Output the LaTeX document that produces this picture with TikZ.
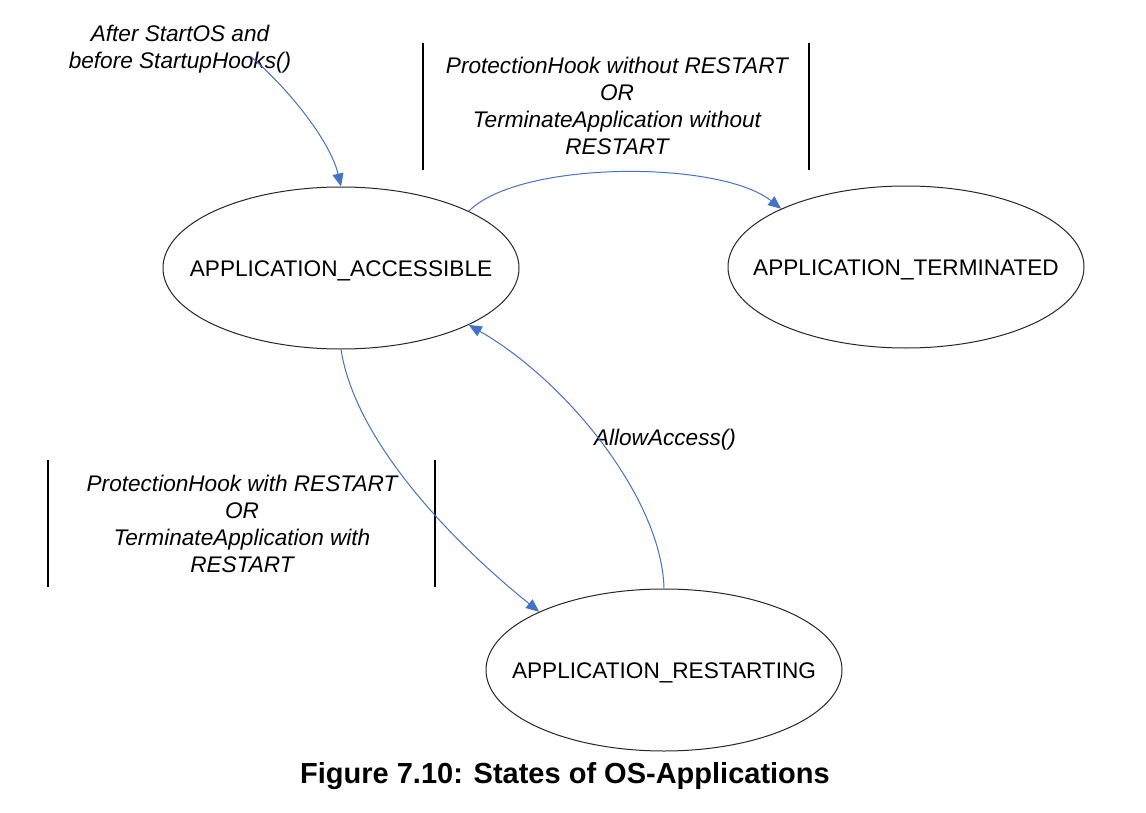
\documentclass[tikz,border=0pt]{standalone}
\usepackage{fontspec}
\setmainfont{Liberation Sans}
\usetikzlibrary{shapes.geometric,arrows.meta}
\definecolor{flowblue}{RGB}{68,114,196}
\newcommand{\stxt}[1]{\makebox[0pt]{\raisebox{-4pt}[0pt][0pt]{#1}}}
\begin{document}
\begin{tikzpicture}[x=0.5pt,y=-0.5pt,
  state/.style={draw=black!85,line width=0.5pt,ellipse,inner sep=0pt,
    minimum width=178pt,minimum height=81pt,
    font=\fontsize{11.3}{13.5}\selectfont},
  lbl/.style={align=center,inner sep=0pt,
    font=\fontsize{11.3}{13.5}\selectfont\itshape},
  flow/.style={draw=flowblue,line width=0.5pt,
    -{Triangle[length=6.5pt,width=5.5pt]}},
  bar/.style={draw=black,line width=0.7pt}]
\useasboundingbox (0,0) rectangle (1146,813);
\fill[white] (0,0) rectangle (1146,813);

\node[state] (acc)  at (341,268) {\stxt{APPLICATION\_ACCESSIBLE}};
\node[state] (term) at (906,267) {\stxt{APPLICATION\_TERMINATED}};
\node[state] (rest) at (664,670) {\stxt{APPLICATION\_RESTARTING}};

\node[lbl] (l1) at (180,49) {After StartOS and\\before StartupHooks()};
\node[lbl] (l2) at (617,106) {ProtectionHook without RESTART\\OR\\TerminateApplication without\\RESTART};
\node[lbl] (l3) at (242,524) {ProtectionHook with RESTART\\OR\\TerminateApplication with\\RESTART};
\node[lbl] (l4) at (665,440) {AllowAccess()};

\draw[bar] (423,43) -- (423,170);
\draw[bar] (809,43) -- (809,170);
\draw[bar] (48,460) -- (48,587);
\draw[bar] (435,460) -- (435,587);

\coordinate (s1) at (250,56);
\draw[flow] (s1) .. controls (286,86) and (330,140) .. (acc.north);
\draw[flow] (acc.24) .. controls (520,160) and (720,160) .. (term.155);
\draw[flow] (acc.south) .. controls (355,440) and (450,540) .. (rest.155);
\draw[flow] (rest.north) .. controls (662,500) and (568,382) .. (acc.-24);

\node[font=\fontsize{14.5}{17}\selectfont\bfseries] (cap) at (565,776)
  {Figure 7.10: States of OS-Applications};
\end{tikzpicture}
\end{document}
